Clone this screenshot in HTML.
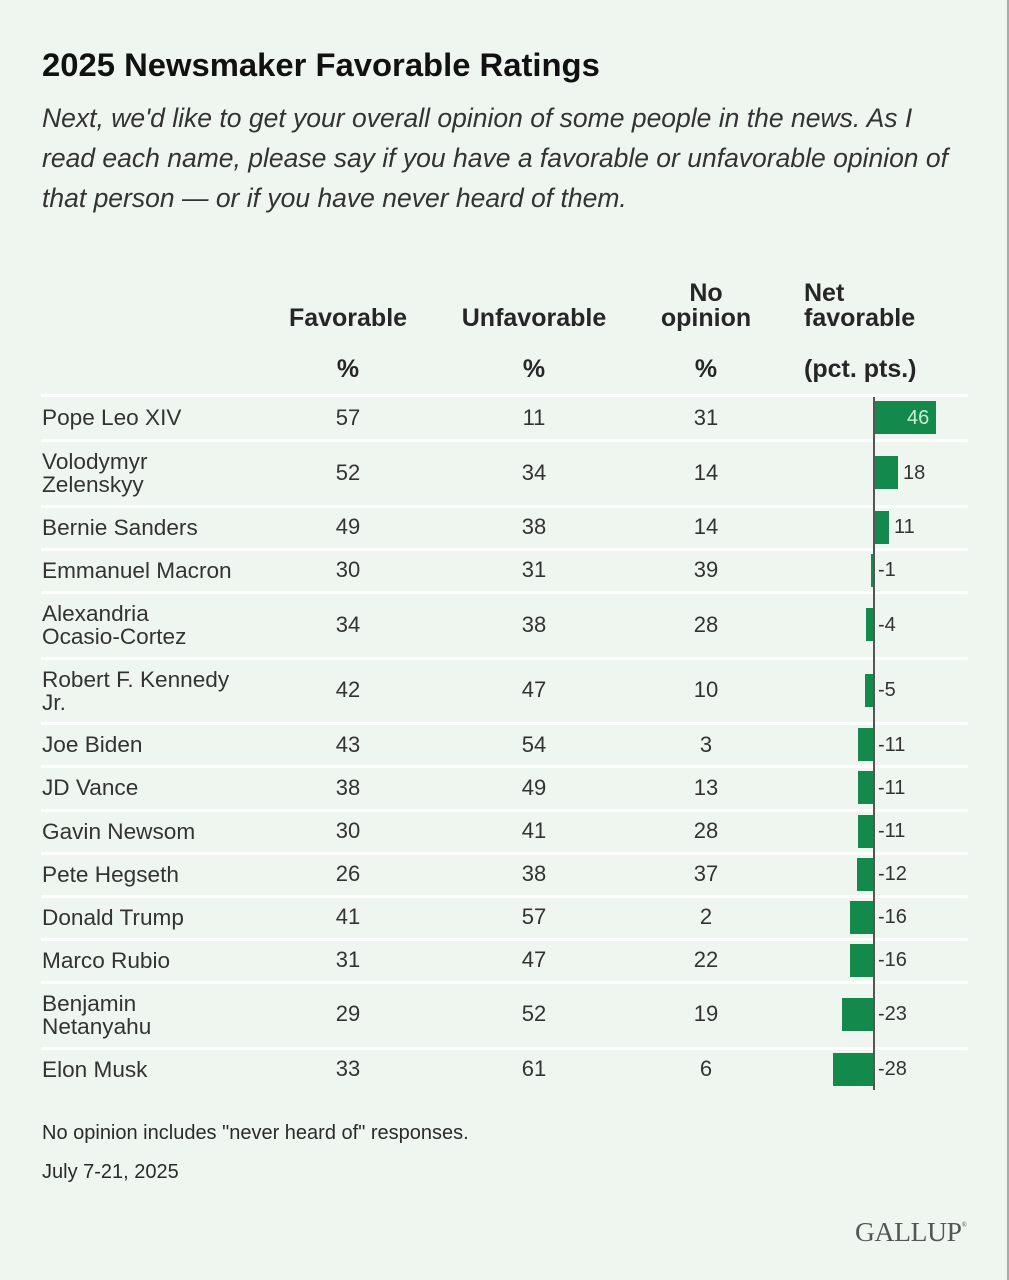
<!DOCTYPE html>
<html><head><meta charset="utf-8">
<style>
*{margin:0;padding:0;box-sizing:border-box}
html,body{width:1009px;height:1280px;overflow:hidden}
body{background:#eff6ef;position:relative;font-family:"Liberation Sans",Arial,sans-serif;color:#2e2e2e}
.a{position:absolute;white-space:nowrap}
.t{left:42px;top:45px;line-height:40px;font-size:32.8px;font-weight:bold;color:#111}
.sub{left:42px;font-style:italic;font-size:26.5px;line-height:40px;color:#333}
.h{font-weight:bold;font-size:25px;line-height:30px;color:#262626}
.c{text-align:center;width:200px}
.sep{position:absolute;left:41px;width:927px;height:3px;background:#fff}
.nm{left:42px;font-size:22.6px;line-height:23px;color:#333}
.n{font-size:22px;line-height:30px;width:100px;text-align:center;color:#333}
.bar{position:absolute;height:33px;background:#138a4c}
.lb{font-size:20px;line-height:30px;color:#333}
.ft{left:42px;font-size:20px;line-height:30px;color:#2a2a2a}
</style></head><body>
<div class="a t">2025 Newsmaker Favorable Ratings</div>
<div class="a sub" style="top:98px">Next, we'd like to get your overall opinion of some people in the news. As I</div>
<div class="a sub" style="top:138px">read each name, please say if you have a favorable or unfavorable opinion of</div>
<div class="a sub" style="top:178px">that person — or if you have never heard of them.</div>

<div class="a h c" style="left:248px;top:303px">Favorable</div>
<div class="a h c" style="left:434px;top:303px">Unfavorable</div>
<div class="a h c" style="left:606px;top:278px">No</div>
<div class="a h c" style="left:606px;top:303px">opinion</div>
<div class="a h" style="left:804px;top:278px">Net</div>
<div class="a h" style="left:804px;top:303px">favorable</div>
<div class="a h c" style="left:248px;top:354px">%</div>
<div class="a h c" style="left:434px;top:354px">%</div>
<div class="a h c" style="left:606px;top:354px">%</div>
<div class="a h" style="left:804px;top:354px">(pct. pts.)</div>

<div class="sep" style="top:394px"></div>
<div class="sep" style="top:439px"></div>
<div class="sep" style="top:505px"></div>
<div class="sep" style="top:548px"></div>
<div class="sep" style="top:591px"></div>
<div class="sep" style="top:657px"></div>
<div class="sep" style="top:722px"></div>
<div class="sep" style="top:765px"></div>
<div class="sep" style="top:809px"></div>
<div class="sep" style="top:852px"></div>
<div class="sep" style="top:895px"></div>
<div class="sep" style="top:938px"></div>
<div class="sep" style="top:981px"></div>
<div class="sep" style="top:1047px"></div>

<div style="position:absolute;left:873px;top:397px;width:2px;height:693px;background:#555"></div>

<div class="a nm" style="top:406px">Pope Leo XIV</div>
<div class="a n" style="left:298px;top:403px">57</div><div class="a n" style="left:484px;top:403px">11</div><div class="a n" style="left:656px;top:403px">31</div>
<div class="bar" style="left:875px;width:61px;top:401px"></div>
<div class="a lb" style="left:907px;top:403px;color:#c8efd4">46</div>

<div class="a nm" style="top:450px">Volodymyr<br>Zelenskyy</div>
<div class="a n" style="left:298px;top:458px">52</div><div class="a n" style="left:484px;top:458px">34</div><div class="a n" style="left:656px;top:458px">14</div>
<div class="bar" style="left:875px;width:23px;top:456px"></div>
<div class="a lb" style="left:903px;top:458px">18</div>

<div class="a nm" style="top:516px">Bernie Sanders</div>
<div class="a n" style="left:298px;top:512px">49</div><div class="a n" style="left:484px;top:512px">38</div><div class="a n" style="left:656px;top:512px">14</div>
<div class="bar" style="left:875px;width:14px;top:511px"></div>
<div class="a lb" style="left:894px;top:512px">11</div>

<div class="a nm" style="top:559px">Emmanuel Macron</div>
<div class="a n" style="left:298px;top:555px">30</div><div class="a n" style="left:484px;top:555px">31</div><div class="a n" style="left:656px;top:555px">39</div>
<div class="bar" style="left:871px;width:2px;top:554px"></div>
<div class="a lb" style="left:878px;top:555px">-1</div>

<div class="a nm" style="top:602px">Alexandria<br>Ocasio-Cortez</div>
<div class="a n" style="left:298px;top:610px">34</div><div class="a n" style="left:484px;top:610px">38</div><div class="a n" style="left:656px;top:610px">28</div>
<div class="bar" style="left:866px;width:7px;top:608px"></div>
<div class="a lb" style="left:878px;top:610px">-4</div>

<div class="a nm" style="top:668px">Robert F. Kennedy<br>Jr.</div>
<div class="a n" style="left:298px;top:675px">42</div><div class="a n" style="left:484px;top:675px">47</div><div class="a n" style="left:656px;top:675px">10</div>
<div class="bar" style="left:865px;width:8px;top:674px"></div>
<div class="a lb" style="left:878px;top:675px">-5</div>

<div class="a nm" style="top:733px">Joe Biden</div>
<div class="a n" style="left:298px;top:730px">43</div><div class="a n" style="left:484px;top:730px">54</div><div class="a n" style="left:656px;top:730px">3</div>
<div class="bar" style="left:858px;width:15px;top:728px"></div>
<div class="a lb" style="left:878px;top:730px">-11</div>

<div class="a nm" style="top:776px">JD Vance</div>
<div class="a n" style="left:298px;top:773px">38</div><div class="a n" style="left:484px;top:773px">49</div><div class="a n" style="left:656px;top:773px">13</div>
<div class="bar" style="left:858px;width:15px;top:771px"></div>
<div class="a lb" style="left:878px;top:773px">-11</div>

<div class="a nm" style="top:820px">Gavin Newsom</div>
<div class="a n" style="left:298px;top:816px">30</div><div class="a n" style="left:484px;top:816px">41</div><div class="a n" style="left:656px;top:816px">28</div>
<div class="bar" style="left:858px;width:15px;top:815px"></div>
<div class="a lb" style="left:878px;top:816px">-11</div>

<div class="a nm" style="top:863px">Pete Hegseth</div>
<div class="a n" style="left:298px;top:859px">26</div><div class="a n" style="left:484px;top:859px">38</div><div class="a n" style="left:656px;top:859px">37</div>
<div class="bar" style="left:857px;width:16px;top:858px"></div>
<div class="a lb" style="left:878px;top:859px">-12</div>

<div class="a nm" style="top:906px">Donald Trump</div>
<div class="a n" style="left:298px;top:902px">41</div><div class="a n" style="left:484px;top:902px">57</div><div class="a n" style="left:656px;top:902px">2</div>
<div class="bar" style="left:850px;width:23px;top:901px"></div>
<div class="a lb" style="left:878px;top:902px">-16</div>

<div class="a nm" style="top:949px">Marco Rubio</div>
<div class="a n" style="left:298px;top:945px">31</div><div class="a n" style="left:484px;top:945px">47</div><div class="a n" style="left:656px;top:945px">22</div>
<div class="bar" style="left:850px;width:23px;top:944px"></div>
<div class="a lb" style="left:878px;top:945px">-16</div>

<div class="a nm" style="top:992px">Benjamin<br>Netanyahu</div>
<div class="a n" style="left:298px;top:999px">29</div><div class="a n" style="left:484px;top:999px">52</div><div class="a n" style="left:656px;top:999px">19</div>
<div class="bar" style="left:842px;width:31px;top:998px"></div>
<div class="a lb" style="left:878px;top:999px">-23</div>

<div class="a nm" style="top:1058px">Elon Musk</div>
<div class="a n" style="left:298px;top:1054px">33</div><div class="a n" style="left:484px;top:1054px">61</div><div class="a n" style="left:656px;top:1054px">6</div>
<div class="bar" style="left:833px;width:40px;top:1053px"></div>
<div class="a lb" style="left:878px;top:1054px">-28</div>

<div class="a ft" style="top:1118px">No opinion includes "never heard of" responses.</div>
<div class="a ft" style="top:1157px">July 7-21, 2025</div>

<div class="a" style="left:855px;top:1208px;font-family:'Liberation Serif','Times New Roman',serif;font-size:27.5px;line-height:34px;color:#555;letter-spacing:-0.3px">GALLUP<span style="font-size:7px;vertical-align:14px">®</span></div>

<div style="position:absolute;left:1007px;top:0;width:2px;height:1280px;background:#a8aca8"></div>
</body></html>
